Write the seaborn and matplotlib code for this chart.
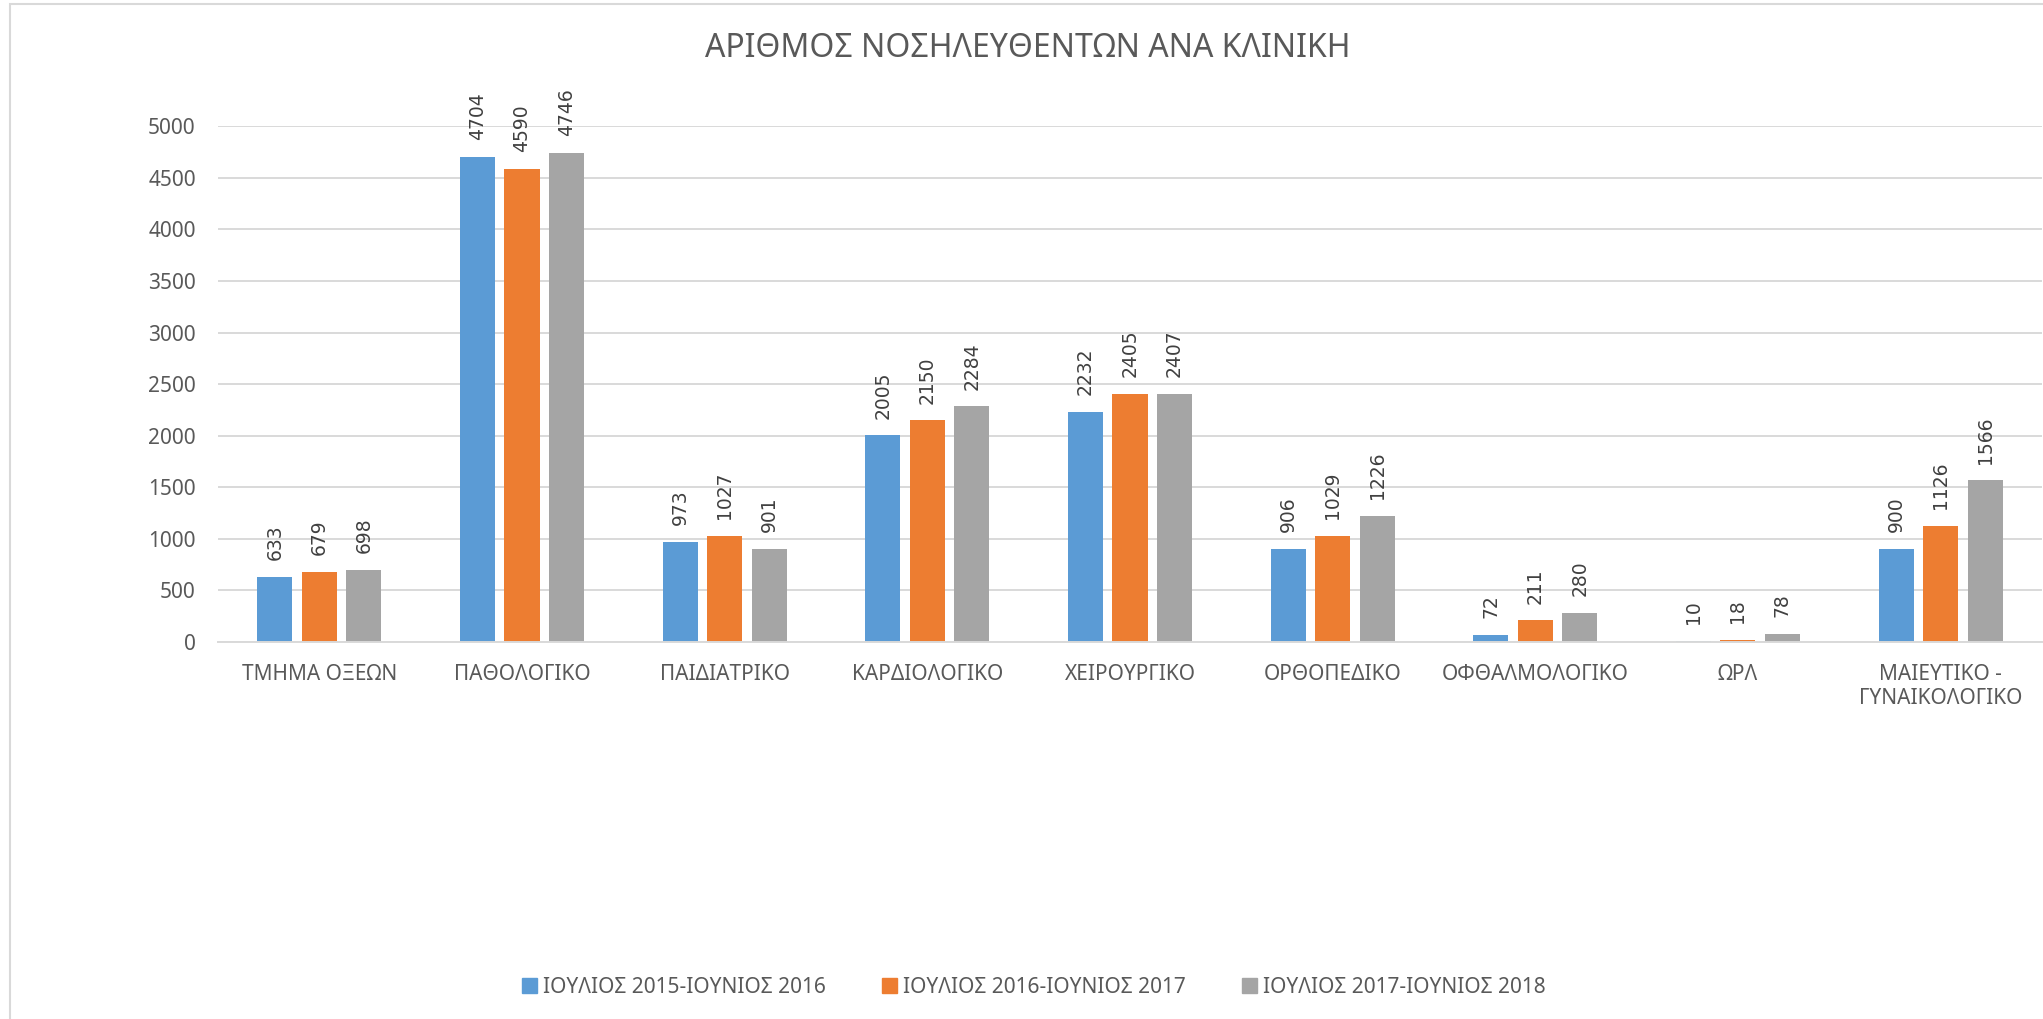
import matplotlib
matplotlib.use("Agg")
import matplotlib.pyplot as plt
import matplotlib.patches as mpatches
import seaborn as sns
import pandas as pd

# data
clinics = ["ΤΜΗΜΑ ΟΞΕΩΝ", "ΠΑΘΟΛΟΓΙΚΟ", "ΠΑΙΔΙΑΤΡΙΚΟ", "ΚΑΡΔΙΟΛΟΓΙΚΟ",
           "ΧΕΙΡΟΥΡΓΙΚΟ", "ΟΡΘΟΠΕΔΙΚΟ", "ΟΦΘΑΛΜΟΛΟΓΙΚΟ", "ΩΡΛ",
           "ΜΑΙΕΥΤΙΚΟ -\nΓΥΝΑΙΚΟΛΟΓΙΚΟ"]
periods = ["ΙΟΥΛΙΟΣ 2015-ΙΟΥΝΙΟΣ 2016",
           "ΙΟΥΛΙΟΣ 2016-ΙΟΥΝΙΟΣ 2017",
           "ΙΟΥΛΙΟΣ 2017-ΙΟΥΝΙΟΣ 2018"]
y2016 = [633, 4704, 973, 2005, 2232, 906, 72, 10, 900]
y2017 = [679, 4590, 1027, 2150, 2405, 1029, 211, 18, 1126]
y2018 = [698, 4746, 901, 2284, 2407, 1226, 280, 78, 1566]
yticks = [0, 500, 1000, 1500, 2000, 2500, 3000, 3500, 4000, 4500, 5000]

colors = ["#5b9bd5", "#ed7d31", "#a5a5a5"]
text_col = "#595959"
grid_col = "#d9d9d9"

df = pd.DataFrame({
    "clinic": clinics * 3,
    "period": [periods[0]] * 9 + [periods[1]] * 9 + [periods[2]] * 9,
    "value": y2016 + y2017 + y2018,
})

sns.set_style("white")
plt.rcParams["font.family"] = ["Noto Sans", "DejaVu Sans"]

fig = plt.figure(figsize=(20.43, 10.19), dpi=100)
ax = fig.add_axes([0.1067, 0.370, 0.8928, 0.506])

sns.barplot(data=df, x="clinic", y="value", hue="period", order=clinics,
            hue_order=periods, palette=colors, width=0.659, gap=0.213,
            errorbar=None, linewidth=0, saturation=1, ax=ax)

for c in ax.containers:
    ax.bar_label(c, fmt="%d", padding=12, rotation=90, fontsize=13.5,
                 color="#404040", family="DejaVu Sans")

ax.set_xlim(-0.5, len(clinics) - 0.5)
ax.set_ylim(0, 5000)
ax.set_yticks(yticks)
ax.set_xlabel("")
ax.set_ylabel("")
ax.yaxis.grid(True, color=grid_col, linewidth=1.4)
ax.set_axisbelow(True)
for s in ["top", "right", "left"]:
    ax.spines[s].set_visible(False)
ax.spines["bottom"].set_color(grid_col)
ax.spines["bottom"].set_linewidth(1.4)
ax.tick_params(axis="y", length=0, pad=16, labelsize=15, labelcolor=text_col)
ax.tick_params(axis="x", length=0, pad=16, labelsize=15, labelcolor=text_col)

ax.get_legend().remove()
handles = [mpatches.Patch(color=col, label=p) for col, p in zip(colors, periods)]
leg = fig.legend(handles=handles, loc="center", bbox_to_anchor=(0.506, 0.031),
                 ncol=3, frameon=False, fontsize=15, handlelength=0.7,
                 handleheight=0.7, handletextpad=0.3, columnspacing=2.7)
for t in leg.get_texts():
    t.set_color(text_col)

fig.text(0.503, 0.952, "ΑΡΙΘΜΟΣ ΝΟΣΗΛΕΥΘΕΝΤΩΝ ΑΝΑ ΚΛΙΝΙΚΗ", ha="center",
         va="center", fontsize=23, color=text_col)

# light chart-area frame, partly cut off like the reference
fig.patches.append(mpatches.Rectangle((0.005, -0.05), 1.2, 1.046,
                                      transform=fig.transFigure, fill=False,
                                      edgecolor=grid_col, linewidth=1.5))

fig.savefig("out.png", dpi=100)
